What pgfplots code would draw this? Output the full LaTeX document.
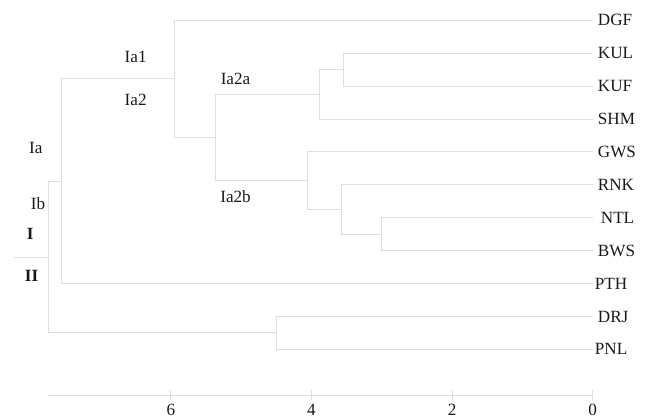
\documentclass[border=0pt]{standalone}
\usepackage{pgfplots}
\pgfplotsset{compat=1.18}
\usepackage{fontspec}
\setmainfont{Liberation Serif}
\definecolor{ln}{RGB}{222,222,222}
\definecolor{tx}{RGB}{25,25,25}
\tikzset{lbl/.style={anchor=west, inner sep=0pt, xshift=5bp, text=tx, text height=0.66em, text depth=0pt},
  cl/.style={anchor=center, inner sep=0pt, text=tx},
  br/.style={draw=ln, line width=0.8bp, solid, no markers}}
\begin{document}
\fontsize{17.2}{20}\selectfont
\begin{tikzpicture}
\path[use as bounding box] (-48.3bp,-24bp) rectangle (597.7bp,395bp);
\begin{axis}[at={(0,0)}, anchor=south west, scale only axis,
  width=544.4bp, height=395bp,
  x dir=reverse, xmin=0, xmax=7.743, ymin=-11.39, ymax=0.617,
  axis x line=bottom, axis y line=none,
  x axis line style={draw=ln,line width=0.8bp,-},
  xtick={0,2,4,6}, tick align=center, major tick length=10bp,
  xtick style={draw=ln, line width=0.8bp},
  xticklabel style={yshift=1.5bp, text=tx, font=\fontsize{17.2}{20}\selectfont},
  /pgf/number format/assume math mode=true,
  clip=false]
% dendrogram branches (x = distance, y = -leaf index)
\addplot[br] coordinates {(0,-1) (3.55,-1) (3.55,-2) (0,-2)};
\addplot[br] coordinates {(3.55,-1.5) (3.89,-1.5) (3.89,-3) (0,-3)};
\addplot[br] coordinates {(0,-6) (3.01,-6) (3.01,-7) (0,-7)};
\addplot[br] coordinates {(0,-5) (3.58,-5) (3.58,-6.5) (3.01,-6.5)};
\addplot[br] coordinates {(0,-4) (4.06,-4) (4.06,-5.75) (3.58,-5.75)};
\addplot[br] coordinates {(3.89,-2.25) (5.37,-2.25) (5.37,-4.875) (4.06,-4.875)};
\addplot[br] coordinates {(0,0) (5.95,0) (5.95,-3.5625) (5.37,-3.5625)};
\addplot[br] coordinates {(5.95,-1.78) (7.56,-1.78) (7.56,-8) (0,-8)};
\addplot[br] coordinates {(0,-9) (4.50,-9) (4.50,-10) (0,-10)};
\addplot[br] coordinates {(7.56,-4.89) (7.743,-4.89) (7.743,-9.5) (4.50,-9.5)};
\addplot[br] coordinates {(7.743,-7.195) (8.23,-7.195)};
% leaf labels
\node[lbl] at (axis cs:0,0) {DGF};
\node[lbl] at (axis cs:0,-1) {KUL};
\node[lbl] at (axis cs:0,-2) {KUF};
\node[lbl] at (axis cs:0,-3) {SHM};
\node[lbl] at (axis cs:0,-4) {GWS};
\node[lbl] at (axis cs:0,-5) {RNK};
\node[lbl,xshift=3bp] at (axis cs:0,-6) {NTL};
\node[lbl] at (axis cs:0,-7) {BWS};
\node[lbl,xshift=-3bp] at (axis cs:0,-8) {PTH};
\node[lbl] at (axis cs:0,-9) {DRJ};
\node[lbl,xshift=-3bp] at (axis cs:0,-10) {PNL};
% cluster labels
\node[cl] at (axis cs:6.50,-1.106) {Ia1};
\node[cl] at (axis cs:6.50,-2.42) {Ia2};
\node[cl] at (axis cs:5.08,-1.78) {Ia2a};
\node[cl] at (axis cs:5.08,-5.36) {Ia2b};
\node[cl] at (axis cs:7.92,-3.87) {Ia};
\node[cl] at (axis cs:7.89,-5.56) {Ib};
\node[cl] at (axis cs:8.0,-6.50) {\textbf{I}};
\node[cl] at (axis cs:7.98,-7.77) {\textbf{II}};
\end{axis}
\end{tikzpicture}
\end{document}
